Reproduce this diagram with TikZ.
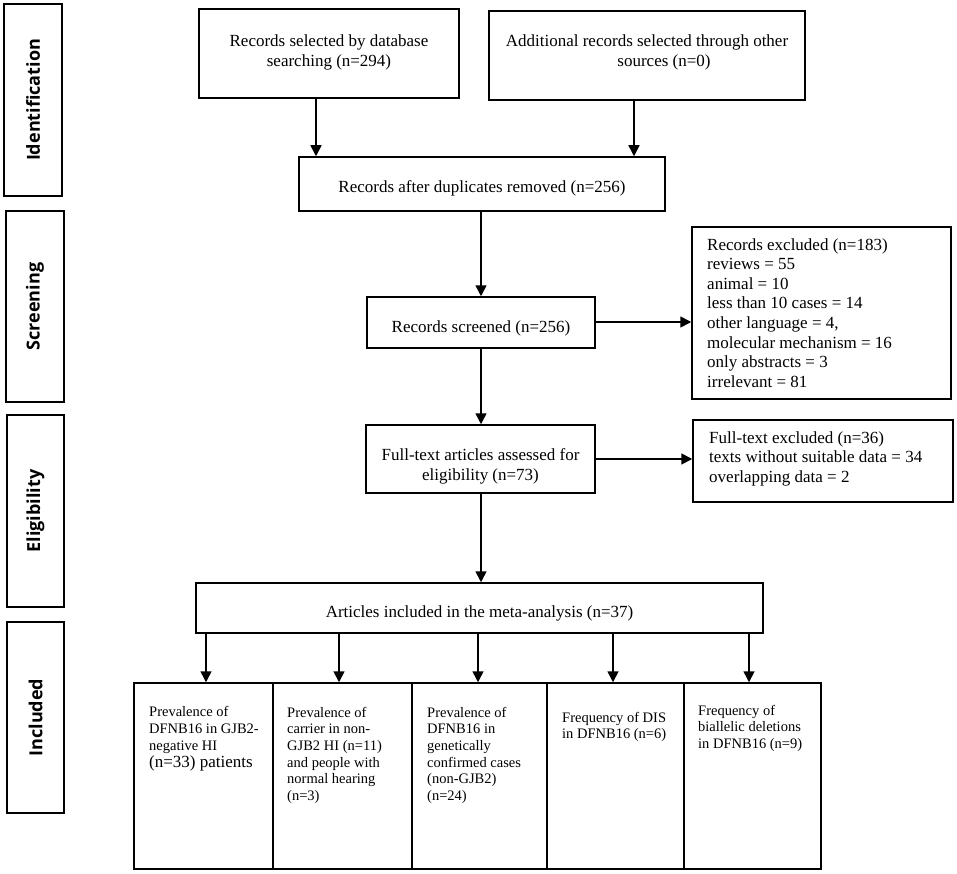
\documentclass[tikz,border=0pt]{standalone}
\usepackage{fontspec}
\setmainfont{Liberation Serif}
\newfontfamily\sidefont{Open Sans}
\usetikzlibrary{arrows.meta,calc}
\begin{document}
\begin{tikzpicture}[x=1pt,y=-1pt,
  box/.style={draw=black,line width=1.5pt,rectangle,inner sep=0pt},
  side/.style={font=\sidefont\bfseries\fontsize{18}{20}\selectfont,rotate=90,inner sep=0pt},
  txt/.style={inner sep=0pt,font=\fontsize{17}{20}\selectfont},
  small/.style={inner sep=0pt,align=left,anchor=base west,font=\fontsize{14.5}{16.7}\selectfont},
  arr/.style={line width=1.6pt,-{Triangle[width=11pt,length=11pt]}}]
\useasboundingbox (0,0) rectangle (957,874);
% side boxes
\node[box,minimum width=58pt,minimum height=192pt] (sid) at (33,100) {};
\node[side] at (sid.center) {Identification};
\node[box,minimum width=58pt,minimum height=191pt] (ssc) at (35,306.5) {};
\node[side] at (ssc.center) {Screening};
\node[box,minimum width=57pt,minimum height=192pt] (sel) at (35.5,511) {};
\node[side] at (sel.center) {Eligibility};
\node[box,minimum width=57pt,minimum height=191pt] (sin) at (35.5,717.5) {};
\node[side] at (sin.center) {Included};
% top boxes
\node[box,minimum width=260pt,minimum height=89pt] (b1) at (329,53.5) {};
\node[txt,align=center,anchor=base] (t1) at (329,67) {Records selected by database\\searching (n=294)};
\node[box,minimum width=316pt,minimum height=89pt] (b2) at (647,55.5) {};
\node[txt,align=center,anchor=base] (t2) at (647,67) {Additional records selected through other\\\hspace*{34pt}sources (n=0)};
\node[box,minimum width=366pt,minimum height=54pt] (dup) at (482,184) {};
\node[txt,anchor=base] at (482,193) {Records after duplicates removed (n=256)};
\node[box,minimum width=228pt,minimum height=51pt] (scr) at (481,322.5) {};
\node[txt,anchor=base] at (481,332) {Records screened (n=256)};
\node[box,minimum width=259pt,minimum height=172pt] (exc) at (821.5,313) {};
\node[txt,align=left,anchor=base west,font=\fontsize{17}{19.6}\selectfont] at (707,387.2) {Records excluded (n=183)\\reviews = 55\\animal = 10\\less than 10 cases = 14\\other language = 4,\\molecular mechanism = 16\\only abstracts = 3\\irrelevant = 81};
\node[box,minimum width=229pt,minimum height=68pt] (ft) at (480.5,459) {};
\node[txt,align=center,anchor=base] at (480.5,480) {Full-text articles assessed for\\eligibility (n=73)};
\node[box,minimum width=260pt,minimum height=82pt] (fte) at (823,461) {};
\node[txt,align=left,anchor=base west,font=\fontsize{17}{19.6}\selectfont] at (709,482.2) {Full-text excluded (n=36)\\texts without suitable data = 34\\overlapping data = 2};
\node[box,minimum width=567pt,minimum height=50pt] (art) at (479.5,608) {};
\node[txt,anchor=base] at (479.5,617) {Articles included in the meta-analysis (n=37)};
% bottom boxes
\node[box,minimum width=139pt,minimum height=186pt] (o1) at (203.5,776) {};
\node[box,minimum width=139pt,minimum height=186pt] (o2) at (342.5,776) {};
\node[box,minimum width=135pt,minimum height=186pt] (o3) at (479.5,776) {};
\node[box,minimum width=137pt,minimum height=186pt] (o4) at (615.5,776) {};
\node[box,minimum width=137pt,minimum height=186pt] (o5) at (752.5,776) {};
\node[small] at (149,767) {Prevalence of\\DFNB16 in GJB2-\\negative HI\\{\fontsize{17}{16.7}\selectfont (n=33) patients}};
\node[small] at (287,800.5) {Prevalence of\\carrier in non-\\GJB2 HI (n=11)\\and people with\\normal hearing\\(n=3)};
\node[small] at (427,800.5) {Prevalence of\\DFNB16 in\\genetically\\confirmed cases\\(non-GJB2)\\(n=24)};
\node[small] at (562,738.7) {Frequency of DIS\\in DFNB16 (n=6)};
\node[small] at (698,748.4) {Frequency of\\biallelic deletions\\in DFNB16 (n=9)};
% connector x positions
\coordinate (x1) at (316,0);
\coordinate (x2) at (634,0);
\coordinate (xm) at (481,0);
\coordinate (y1) at (0,322);
\coordinate (y2) at (0,459);
\coordinate (k1) at (206,0);
\coordinate (k2) at (339,0);
\coordinate (k3) at (478,0);
\coordinate (k4) at (613,0);
\coordinate (k5) at (749,0);
\draw[arr] (b1.south -| x1) -- (dup.north -| x1);
\draw[arr] (b2.south -| x2) -- (dup.north -| x2);
\draw[arr] (dup.south -| xm) -- (scr.north -| xm);
\draw[arr] (scr.south -| xm) -- (ft.north -| xm);
\draw[arr] (ft.south -| xm) -- (art.north -| xm);
\draw[arr] (scr.east |- y1) -- (exc.west |- y1);
\draw[arr] (ft.east |- y2) -- (fte.west |- y2);
\draw[arr] (art.south -| k1) -- (o1.north -| k1);
\draw[arr] (art.south -| k2) -- (o2.north -| k2);
\draw[arr] (art.south -| k3) -- (o3.north -| k3);
\draw[arr] (art.south -| k4) -- (o4.north -| k4);
\draw[arr] (art.south -| k5) -- (o5.north -| k5);
\end{tikzpicture}
\end{document}
